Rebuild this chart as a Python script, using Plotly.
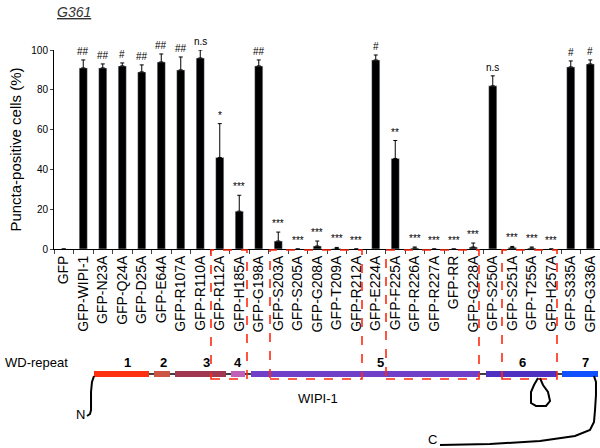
import plotly.graph_objects as go

categories = ["GFP","GFP-WIPI-1","GFP-N23A","GFP-Q24A","GFP-D25A","GFP-E64A","GFP-R107A","GFP-R110A",
              "GFP-R112A","GFP-H185A","GFP-G198A","GFP-S203A","GFP-S205A","GFP-G208A","GFP-T209A","GFP-R212A",
              "GFP-E224A","GFP-F225A","GFP-R226A","GFP-R227A","GFP-RR","GFP-G228A","GFP-S250A","GFP-S251A",
              "GFP-T255A","GFP-H257A","GFP-S335A","GFP-G336A"]
values = [0,91,91,92,89,94,90,96,46,19,92,4,0,1.5,0.3,0,95,45.5,0.5,0,0,1,82,0.8,0.5,0,91.5,93]
errors = [0,4,2,1.5,3.5,4,6.5,4,17,8,3,4.5,0,2.5,0.5,0,2.5,9,0.5,0,0,2,5,0.5,0.5,0,3,2]
signif = ["","##","##","#","##","##","##","n.s","*","***","##","***","***","***","***","***",
          "#","**","***","***","***","***","n.s","***","***","***","#","#"]
wd_labels = ["1","2","3","4","5","6","7"]
wd_colors = ["#ff3010","#cc5544","#a03850","#c060b8","#7040c8","#5030c0","#1050ff"]

W, H = 600, 448
def px(x): return x / W
def py(y): return 1 - y / H

fig = go.Figure(go.Bar(
    x=categories, y=values, marker_color="black", width=0.42,
    error_y=dict(type="data", array=errors, arrayminus=[0]*len(errors), symmetric=False,
                 color="black", thickness=1, width=2),
))
for c, v, e, s in zip(categories, values, errors, signif):
    if s:
        fig.add_annotation(x=c, y=v + e, text=s, showarrow=False, yanchor="bottom", yshift=1,
                           font=dict(size=10, color="black", family="Liberation Sans"))

shapes = []
shapes.append(dict(type="line", xref="paper", yref="paper", x0=px(94), x1=px(598), y0=py(374), y1=py(374),
                   line=dict(color="black", width=1.5)))
segs = [(94,149),(154,170),(175,226),(231,245),(251,480),(486,557),(562,598)]
for (a, b), col in zip(segs, wd_colors):
    shapes.append(dict(type="rect", xref="paper", yref="paper", x0=px(a), x1=px(b), y0=py(377), y1=py(371),
                       line=dict(width=0), fillcolor=col))
for x0, x1 in [(211, 247), (270, 362), (386, 479), (502, 557)]:
    shapes.append(dict(type="rect", xref="paper", yref="paper", x0=px(x0), x1=px(x1), y0=py(379), y1=py(250),
                       line=dict(color="#ff2a10", width=1.6, dash="dash")))
def path(pts):
    return "M " + " L ".join(f"{px(x):.4f},{py(y):.4f}" for x, y in pts)
shapes.append(dict(type="path", xref="paper", yref="paper", line=dict(color="black", width=2),
                   path=path([(94,376),(92,382),(91,392),(91,402),(91,410),(90,414),(87,416)])))
shapes.append(dict(type="path", xref="paper", yref="paper", line=dict(color="black", width=2),
                   path=path([(594,376),(596,382),(596,395),(595,410),(594,422),(590,430),(575,436),
                              (540,441),(490,444),(440,445)])))
shapes.append(dict(type="path", xref="paper", yref="paper", line=dict(color="black", width=2),
                   path=path([(538,378),(534,385),(531,392),(531,403),(536,406),(546,406),(550,401),
                              (548,392),(543,385),(540,378)])))
fig.update_layout(shapes=shapes)

def txt(x, y, t, anchor="center", size=13, color="black"):
    fig.add_annotation(xref="paper", yref="paper", x=px(x), y=py(y), xanchor=anchor, yanchor="middle",
                       text=t, showarrow=False, font=dict(size=size, color=color, family="Liberation Sans"))

for lab, xx in zip(wd_labels, [127,163,206,238,380,522,585]):
    txt(xx, 362, f"<b>{lab}</b>")
txt(3, 362, "WD-repeat", "left")
txt(318, 398, "WIPI-1")
txt(80, 414, "N")
txt(432, 439, "C")
txt(55, 12, "<i><u>G361</u></i>", "left", 14, "#333")

fig.update_layout(
    width=W, height=H, margin=dict(l=0, r=0, t=0, b=0),
    plot_bgcolor="white", paper_bgcolor="white", showlegend=False,
    font=dict(family="Liberation Sans", color="black"),
    xaxis=dict(domain=[px(54), 1], showline=True, linecolor="black", ticks="outside", tickson="boundaries",
               ticklen=4, tickangle=-90, tickfont=dict(size=14), automargin=False),
    yaxis=dict(domain=[py(249), py(50)], range=[0, 100], dtick=20, showline=True, linecolor="black",
               ticks="outside", ticklen=3, showgrid=False, zeroline=False, tickfont=dict(size=10),
               title=dict(text="Puncta-positive cells (%)", font=dict(size=15), standoff=6), automargin=False),
)
fig.write_html("out.html", config={"displayModeBar": False},
               post_script="document.body.style.margin='0';document.body.style.overflow='hidden';")
